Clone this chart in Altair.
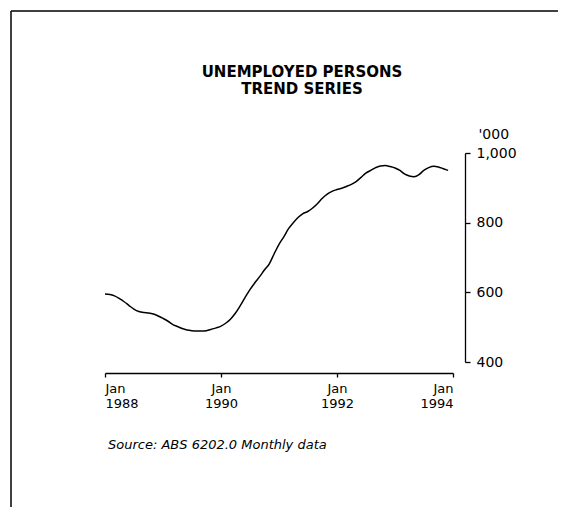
import altair as alt
import pandas as pd

# Monthly trend series, Jan 1988 - Dec 1993 ('000 persons)
months = pd.date_range("1988-01-01", periods=72, freq="MS").strftime("%Y-%m-%d").tolist()
unemployed = [
    595, 594, 590, 582, 573, 562, 552, 545, 542, 541, 538, 532,   # 1988
    525, 517, 508, 502, 496, 492, 490, 489, 489, 490, 494, 498,   # 1989
    503, 512, 523, 540, 561, 585, 607, 627, 645, 664, 682, 710,   # 1990
    738, 760, 782, 800, 815, 826, 832, 842, 855, 870, 882, 890,   # 1991
    895, 899, 904, 910, 918, 930, 942, 950, 958, 963, 964, 961,   # 1992
    957, 950, 940, 934, 932, 938, 950, 958, 962, 960, 955, 950,   # 1993
]
x_tick_years = [1988, 1990, 1992, 1994]
y_ticks = [400, 600, 800, 1000]
title_lines = ["UNEMPLOYED PERSONS", "TREND SERIES"]
source_text = "Source: ABS 6202.0 Monthly data"

df = pd.DataFrame({"date": months, "value": unemployed})

FONT = "DejaVu Sans"

line = alt.Chart(df).mark_line(color="black", strokeWidth=1.5, interpolate="monotone").encode(
    x=alt.X(
        "date:T",
        scale=alt.Scale(
            type="utc",
            domain=[alt.DateTime(year=1988, month=1, date=1, utc=True),
                    alt.DateTime(year=1994, month=1, date=1, utc=True)],
        ),
        axis=alt.Axis(
            values=[alt.DateTime(year=y, month=1, date=1, utc=True) for y in x_tick_years],
            labelExpr="[utcFormat(datum.value, '%b'), utcFormat(datum.value, '%Y')]",
            title=None,
            grid=False,
            offset=11,
            tickSize=4,
            labelPadding=5,
            labelFont=FONT,
            labelFontSize=13,
            labelLineHeight=15,
            labelColor="black",
            domainColor="black",
            tickColor="black",
            domainWidth=1.3,
            tickWidth=1.3,
        ),
    ),
    y=alt.Y(
        "value:Q",
        scale=alt.Scale(domain=[400, 1000], nice=False, zero=False),
        axis=alt.Axis(
            orient="right",
            values=y_ticks,
            format=",.0f",
            title="'000",
            titleAngle=0,
            titleX=13,
            titleY=-15,
            titleAlign="left",
            titleBaseline="alphabetic",
            titleFont=FONT,
            titleFontSize=14,
            titleFontWeight="normal",
            titleColor="black",
            grid=False,
            offset=12,
            tickSize=5,
            labelPadding=6,
            labelFont=FONT,
            labelFontSize=14,
            labelColor="black",
            domainColor="black",
            tickColor="black",
            domainWidth=1.3,
            tickWidth=1.3,
        ),
    ),
)

one = alt.Data(values=[{}])

top_border = alt.Chart(one).mark_rule(color="black", strokeWidth=1.5).encode(
    x=alt.value(-94), x2=alt.value(453), y=alt.value(-142)
)
left_border = alt.Chart(one).mark_rule(color="black", strokeWidth=1.5).encode(
    x=alt.value(-94), y=alt.value(-142), y2=alt.value(354)
)
title1 = alt.Chart(one).mark_text(
    text=title_lines[0], font=FONT, fontWeight="bold", fontSize=15, align="center",
    baseline="alphabetic", color="black"
).encode(x=alt.value(197), y=alt.value(-76))
title2 = alt.Chart(one).mark_text(
    text=title_lines[1], font=FONT, fontWeight="bold", fontSize=15, align="center",
    baseline="alphabetic", color="black"
).encode(x=alt.value(197), y=alt.value(-59))
source = alt.Chart(one).mark_text(
    text=source_text, font=FONT, fontStyle="italic", fontSize=13, align="left",
    baseline="alphabetic", color="black"
).encode(x=alt.value(3), y=alt.value(296))

chart = alt.layer(top_border, left_border, title1, title2, line, source).properties(
    width=348,
    height=209,
    autosize=alt.AutoSizeParams(type="none"),
    padding={"left": 97, "top": 145, "right": 105, "bottom": 145},
).configure(
    background="white",
    view=alt.ViewConfig(stroke="transparent", strokeWidth=0),
)

chart.save("out.html", embed_options={"renderer": "svg", "actions": False})
